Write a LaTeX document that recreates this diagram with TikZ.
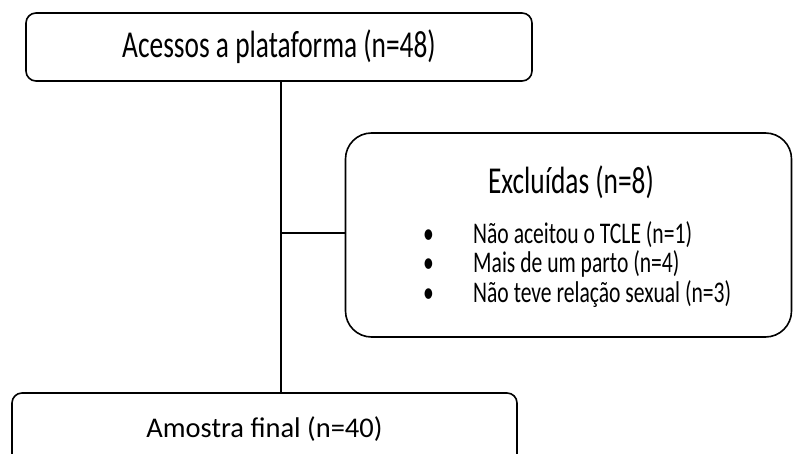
\documentclass[tikz,border=0pt]{standalone}
\usepackage{fontspec}
\setmainfont{Carlito}
\newfontfamily\narrowfont[FakeStretch=0.72]{Carlito}
\usetikzlibrary{positioning}

\begin{document}
\begin{tikzpicture}[x=1pt,y=-1pt,
  box/.style={draw,line width=1.6pt,inner sep=0pt},
  heading/.style={inner sep=0pt,font=\narrowfont\fontsize{38}{44}\selectfont}]
\clip (0,0) rectangle (793,454);
\node[box,heading,rounded corners=10pt,minimum width=506pt,minimum height=68pt] (access) at (279,47) {Acessos a plataforma (n=48)};
\node[box,rounded corners=26pt,minimum width=446pt,minimum height=204pt] (excl) at (568.5,235) {};
\node[heading] (excltitle) at (571,182) {Excluídas (n=8)};
\node[anchor=west,inner sep=0pt,font=\narrowfont\fontsize{30}{24.5}\selectfont] (reasons) at (423,265.5) {%
  \begin{tabular}{@{}p{50pt}@{}l@{}}
  \textbullet & Não aceitou o TCLE (n=1)\\
  \textbullet & Mais de um parto (n=4)\\
  \textbullet & Não teve relação sexual (n=3)
  \end{tabular}};
\node[box,rounded corners=10pt,minimum width=505pt,minimum height=72pt,font=\fontsize{28.5}{34}\selectfont] (final) at (264.5,429) {Amostra final (n=40)};
\coordinate (junction) at (281,233);
\draw[line width=1.6pt] (access.south -| junction) -- (final.north -| junction);
\draw[line width=1.6pt] (junction) -- (excl.west |- junction);
\end{tikzpicture}
\end{document}
